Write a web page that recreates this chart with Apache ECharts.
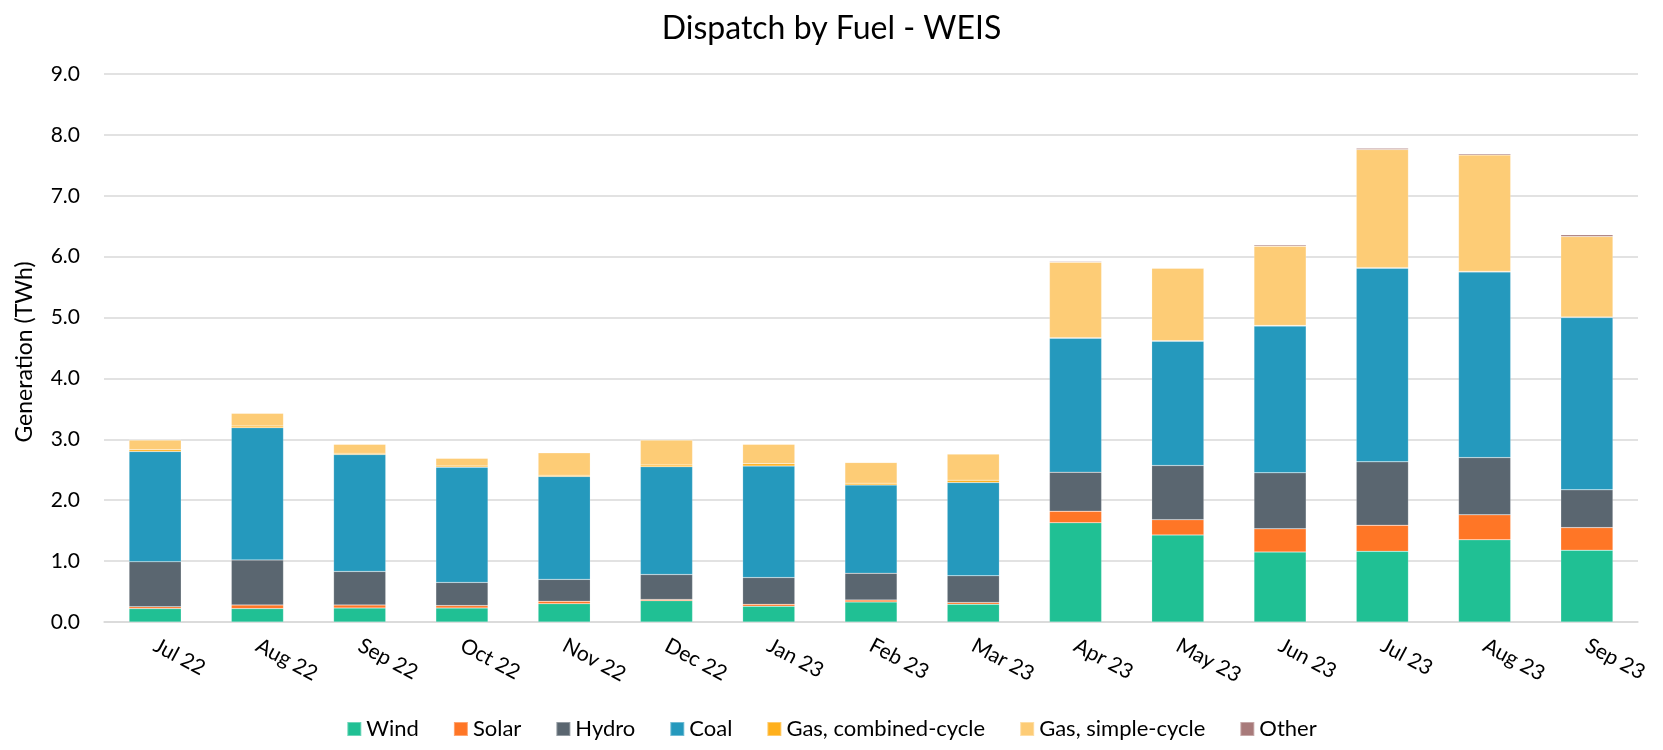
<!DOCTYPE html>
<html>
<head>
<meta charset="utf-8">
<script src="https://cdn.jsdelivr.net/npm/echarts@6/dist/echarts.min.js"></script>
<style>
  body { margin: 0; background: #fff; }
  #main { width: 1663px; height: 750px; }
</style>
</head>
<body>
<div id="main"></div>
<script>
// months on the x axis
var months = ['Jul 22', 'Aug 22', 'Sep 22', 'Oct 22', 'Nov 22', 'Dec 22', 'Jan 23', 'Feb 23', 'Mar 23',
  'Apr 23', 'May 23', 'Jun 23', 'Jul 23', 'Aug 23', 'Sep 23'];

// generation in TWh
var wind   = [0.22, 0.22, 0.23, 0.23, 0.30, 0.35, 0.26, 0.33, 0.29, 1.63, 1.43, 1.15, 1.16, 1.35, 1.18];
var solar  = [0.03, 0.06, 0.05, 0.04, 0.04, 0.02, 0.03, 0.03, 0.03, 0.19, 0.25, 0.38, 0.43, 0.41, 0.37];
var hydro  = [0.74, 0.74, 0.55, 0.38, 0.36, 0.41, 0.44, 0.44, 0.44, 0.64, 0.89, 0.92, 1.04, 0.94, 0.62];
var coal   = [1.81, 2.17, 1.92, 1.89, 1.69, 1.77, 1.83, 1.45, 1.53, 2.20, 2.04, 2.41, 3.18, 3.05, 2.83];
var gasCC  = [0.03, 0.03, 0.02, 0.02, 0.02, 0.03, 0.04, 0.03, 0.04, 0.01, 0.01, 0.01, 0.01, 0.01, 0.01];
var gasSC  = [0.16, 0.21, 0.15, 0.13, 0.37, 0.41, 0.32, 0.34, 0.43, 1.24, 1.19, 1.30, 1.94, 1.91, 1.32];
var other  = [0.00, 0.00, 0.00, 0.00, 0.00, 0.00, 0.00, 0.00, 0.00, 0.01, 0.01, 0.02, 0.02, 0.02, 0.03];

var yTicks = [0, 1, 2, 3, 4, 5, 6, 7, 8, 9];

var fuels = [
  { name: 'Wind', data: wind, color: '#20c094' },
  { name: 'Solar', data: solar, color: '#ff7626' },
  { name: 'Hydro', data: hydro, color: '#5a6670' },
  { name: 'Coal', data: coal, color: '#2599bd' },
  { name: 'Gas, combined-cycle', data: gasCC, color: '#ffb01c' },
  { name: 'Gas, simple-cycle', data: gasSC, color: '#fdcc76' },
  { name: 'Other', data: other, color: '#a87a7a' }
];

var font = 'Lato, "Open Sans", sans-serif';
var chart = echarts.init(document.getElementById('main'));

chart.setOption({
  animation: false,
  textStyle: { fontFamily: font },
  title: {
    text: 'Dispatch by Fuel - WEIS',
    left: 'center',
    top: 8,
    textStyle: { fontFamily: font, fontSize: 32, fontWeight: 'normal', color: '#000' }
  },
  legend: {
    bottom: 5,
    left: 'center',
    itemWidth: 14,
    itemHeight: 14,
    itemGap: 34,
    icon: 'rect',
    textStyle: { fontFamily: font, fontSize: 22, color: '#000' },
    data: fuels.map(function (f) { return f.name; })
  },
  // y axis title, rotated
  graphic: [{
    type: 'text',
    x: 25,
    y: 352,
    rotation: Math.PI / 2,
    style: {
      text: 'Generation (TWh)',
      fill: '#000',
      font: '23px Lato, "Open Sans", sans-serif',
      align: 'center',
      verticalAlign: 'middle'
    }
  }],
  grid: { left: 104, right: 25, top: 74, bottom: 128 },
  xAxis: {
    type: 'category',
    data: months,
    axisTick: { show: false },
    axisLine: { lineStyle: { color: '#d9d9d9', width: 1.5 } },
    axisLabel: { color: '#000', fontSize: 21, rotate: -28, margin: 22, fontFamily: font }
  },
  yAxis: {
    type: 'value',
    min: yTicks[0],
    max: yTicks[yTicks.length - 1],
    interval: 1,
    axisLabel: {
      color: '#000', fontSize: 21, margin: 24, fontFamily: font,
      formatter: function (v) { return v.toFixed(1); }
    },
    splitLine: { lineStyle: { color: '#d9d9d9', width: 1.5 } }
  },
  series: fuels.map(function (f) {
    return {
      name: f.name,
      type: 'bar',
      stack: 'total',
      barWidth: '51%',
      data: f.data,
      itemStyle: { color: f.color, borderColor: 'rgba(255,255,255,0.35)', borderWidth: 0.5 }
    };
  })
});
</script>
</body>
</html>
